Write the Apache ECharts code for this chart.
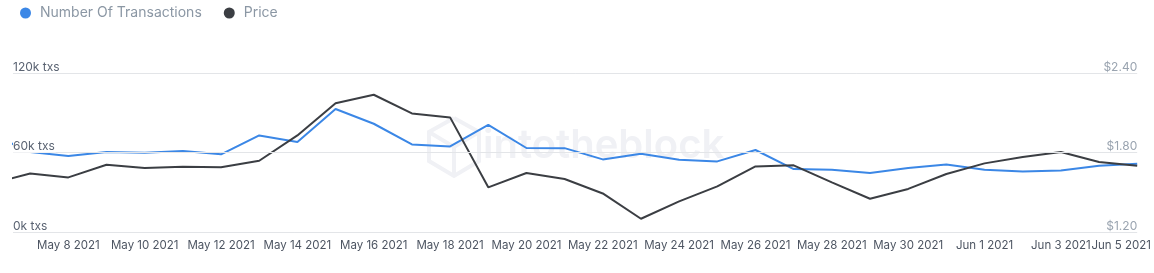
<!DOCTYPE html>
<html>
<head>
<meta charset="utf-8">
<script src="https://cdn.jsdelivr.net/npm/echarts@6/dist/echarts.min.js"></script>
<style>
html,body{margin:0;padding:0;background:#fff;}
#chart{width:1154px;height:273px;}
</style>
</head>
<body>
<div id="chart"></div>
<script>
// Days from May 6 2021 to Jun 5 2021
var dates = ['May 6 2021','May 7 2021','May 8 2021','May 9 2021','May 10 2021','May 11 2021','May 12 2021','May 13 2021','May 14 2021','May 15 2021','May 16 2021','May 17 2021','May 18 2021','May 19 2021','May 20 2021','May 21 2021','May 22 2021','May 23 2021','May 24 2021','May 25 2021','May 26 2021','May 27 2021','May 28 2021','May 29 2021','May 30 2021','May 31 2021','Jun 1 2021','Jun 2 2021','Jun 3 2021','Jun 4 2021','Jun 5 2021'];
var transactions = [73500,60400,57400,60400,59800,61100,58600,72900,67900,92800,81700,66100,64600,80800,63400,63300,54800,59100,54600,53300,61900,47500,47000,44500,48300,51000,47000,45700,46500,50000,51500];
var price = [1.565,1.642,1.612,1.708,1.683,1.693,1.688,1.738,1.929,2.171,2.236,2.095,2.065,1.537,1.645,1.600,1.491,1.300,1.431,1.544,1.695,1.703,1.574,1.451,1.525,1.638,1.718,1.766,1.804,1.728,1.700];
var xLabelIdx = [2,4,6,8,10,12,14,16,18,20,22,24,26,28,30];
var leftTicks = [0,60000,120000];
var rightTicks = [1.2,1.8,2.4];

var chart = echarts.init(document.getElementById('chart'));
var FONT = 'Inter, "Noto Sans", sans-serif';
var txData = transactions.map(function(v,i){return [i,v];});
var pxData = price.map(function(v,i){return [i,v];});
var lastIdx = dates.length - 1;

var option = {
  animation:false,
  textStyle:{fontFamily:FONT},
  legend:{
    left:15, top:1, itemWidth:11, itemHeight:11, itemGap:22, icon:'circle',
    textStyle:{color:'#8b97a4', fontSize:14, fontFamily:FONT, padding:[0,0,0,4]},
    data:['Number Of Transactions','Price']
  },
  grid:{left:13, right:13, top:73, bottom:41},
  graphic:[
    {type:'polyline', z:0, silent:true, shape:{points:[[454,118],[479,132],[479,161],[454,176],[429,161],[429,132],[454,118]]}, style:{stroke:'#f0f1f5', lineWidth:4, fill:null}},
    {type:'polyline', z:0, silent:true, shape:{points:[[429,132],[454,147],[479,132]]}, style:{stroke:'#f0f1f5', lineWidth:4, fill:null}},
    {type:'line', z:0, silent:true, shape:{x1:454,y1:147,x2:454,y2:176}, style:{stroke:'#f0f1f5', lineWidth:4}},
    {type:'text', z:0, silent:true, left:483, top:126, style:{text:'intotheblock', fill:'#f0f1f5', font:'600 40px ' + FONT}}
  ],
  xAxis:{
    type:'value', min:0.55, max:lastIdx,
    axisLine:{show:false}, axisTick:{show:false}, splitLine:{show:false},
    axisLabel:{
      customValues:xLabelIdx, showMaxLabel:true, showMinLabel:true, hideOverlap:false,
      color:'#4d5562', fontSize:11.5, margin:8, fontFamily:FONT,
      formatter:function(v){
        var s = dates[Math.round(v)];
        return Math.round(v) === lastIdx ? '{last|' + s + '}' : s;
      },
      rich:{last:{padding:[0,32,0,0], color:'#4d5562', fontSize:11.5, fontFamily:FONT}}
    }
  },
  yAxis:[
    {
      type:'value', min:0, max:120000, interval:60000, position:'left', z:5,
      axisLine:{show:false}, axisTick:{show:false},
      splitLine:{lineStyle:{color:'#e3e5e8', width:1}},
      axisLabel:{
        inside:true, margin:0, align:'left', verticalAlign:'bottom', color:'#5a6372', fontSize:12,
        fontFamily:FONT, backgroundColor:'#fff', lineHeight:12, padding:[0,1,0,0],
        formatter:function(v){return (v/1000) + 'k txs';}
      }
    },
    {
      type:'value', min:1.2, max:2.4, interval:0.6, position:'right', z:5,
      axisLine:{show:false}, axisTick:{show:false}, splitLine:{show:false},
      axisLabel:{
        inside:true, margin:0, align:'right', verticalAlign:'bottom', color:'#9aa4b0', fontSize:12,
        fontFamily:FONT, lineHeight:12, padding:0,
        formatter:function(v){return '$' + v.toFixed(2);}
      }
    }
  ],
  series:[
    {name:'Number Of Transactions', type:'line', yAxisIndex:0, data:txData, showSymbol:false, symbol:'none',
     lineStyle:{color:'#3b87e6', width:2}, itemStyle:{color:'#3b87e6'}, z:2},
    {name:'Price', type:'line', yAxisIndex:1, data:pxData, showSymbol:false, symbol:'none',
     lineStyle:{color:'#3b3e43', width:2}, itemStyle:{color:'#3b3e43'}, z:2}
  ]
};
chart.setOption(option);
</script>
</body>
</html>
